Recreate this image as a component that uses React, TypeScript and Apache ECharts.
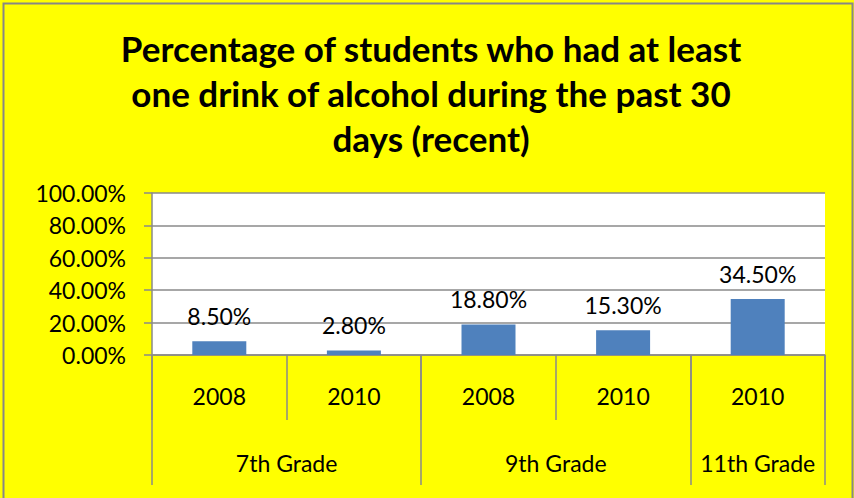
import React, { useEffect, useRef } from "react";
import * as echarts from "echarts";

const titleText = "Percentage of students who had at least\none drink of alcohol during the past 30\ndays (recent)";
const years = ["2008", "2010", "2008", "2010", "2010"];
const values = [8.5, 2.8, 18.8, 15.3, 34.5];
const grades = ["7th Grade", "9th Grade", "11th Grade"];
const gradeSpans = [2, 2, 1];
const yMin = 0;
const yMax = 100;
const yStep = 20;

export default function App() {
  const ref = useRef<HTMLDivElement>(null);
  useEffect(() => {
    if (!ref.current) return;
    const chart = echarts.init(ref.current, null, { renderer: "svg" });
    const bounds: number[] = [0];
    gradeSpans.forEach((s) => bounds.push(bounds[bounds.length - 1] + s));
    const centers = gradeSpans.map((s, i) => bounds[i] + s / 2);
    const gray = "#8a8a8a";
    const font = "Lato";
    chart.setOption({
      animation: false,
      backgroundColor: "#FFFF00",
      textStyle: { fontFamily: font },
      title: {
        text: titleText,
        left: 426,
        top: 20,
        textAlign: "center",
        textStyle: {
          fontFamily: font,
          fontWeight: "bold",
          fontSize: 35,
          lineHeight: 45,
          color: "#000",
        },
      },
      graphic: [
        {
          type: "rect",
          shape: { x: 3.5, y: 3.5, width: 849, height: 600 },
          style: { fill: "none", stroke: "#878787", lineWidth: 2 },
          silent: true,
        },
      ],
      grid: {
        left: 152,
        right: 29,
        top: 193,
        bottom: 143,
        show: true,
        backgroundColor: "#ffffff",
        borderWidth: 0,
      },
      xAxis: [
        {
          type: "category",
          data: years,
          position: "bottom",
          axisLine: { show: true, lineStyle: { color: gray, width: 1.5 } },
          axisTick: {
            show: true,
            interval: 0,
            length: 65,
            lineStyle: { color: gray, width: 1.5 },
          },
          axisLabel: {
            interval: 0,
            margin: 29,
            fontSize: 23,
            color: "#000",
            fontFamily: font,
          },
        },
        {
          type: "value",
          min: 0,
          max: bounds[bounds.length - 1],
          position: "bottom",
          axisLine: { show: false },
          splitLine: { show: false },
          axisTick: {
            show: true,
            customValues: bounds,
            length: 130,
            lineStyle: { color: gray, width: 1.5 },
          },
          axisLabel: {
            customValues: centers,
            margin: 96,
            fontSize: 23,
            color: "#000",
            fontFamily: font,
            formatter: (v: number) => {
              const i = centers.indexOf(v);
              return i >= 0 ? grades[i] : "";
            },
          },
        },
      ],
      yAxis: {
        type: "value",
        min: yMin,
        max: yMax,
        interval: yStep,
        axisLine: { show: true, lineStyle: { color: gray, width: 1.5 } },
        axisTick: { show: true, length: 8, lineStyle: { color: gray, width: 1.5 } },
        splitLine: { show: true, lineStyle: { color: gray, width: 1.5 } },
        axisLabel: {
          margin: 26,
          fontSize: 23,
          color: "#000",
          fontFamily: font,
          formatter: (v: number) => v.toFixed(2) + "%",
        },
      },
      series: [
        {
          type: "bar",
          xAxisIndex: 0,
          data: values,
          barWidth: 54,
          itemStyle: { color: "#4F81BD" },
          label: {
            show: true,
            position: "top",
            distance: 14,
            fontSize: 23,
            color: "#000",
            fontFamily: font,
            formatter: (p: any) => p.value.toFixed(2) + "%",
          },
        },
      ],
    });
    return () => chart.dispose();
  }, []);
  return (
    <div
      ref={ref}
      style={{ position: "fixed", left: 0, top: 0, width: 854, height: 498 }}
    />
  );
}
